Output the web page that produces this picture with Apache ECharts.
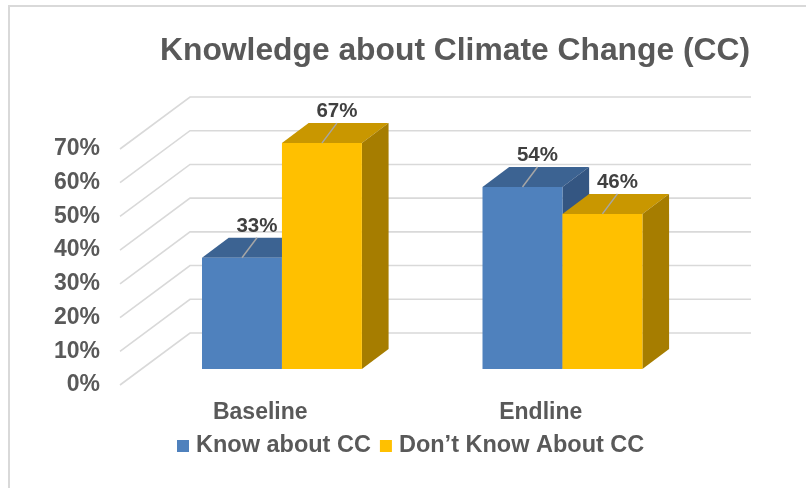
<!DOCTYPE html>
<html>
<head>
<meta charset="utf-8">
<script src="https://cdn.jsdelivr.net/npm/echarts@6/dist/echarts.min.js"></script>
<style>
  html, body { margin: 0; padding: 0; background: #ffffff; }
  #chart { width: 806px; height: 488px; }
</style>
</head>
<body>
<div id="chart"></div>
<script>
// Survey results: share of respondents who know about climate change
const categories = ['Baseline', 'Endline'];
const seriesNames = ['Know about CC', 'Don\u2019t Know About CC'];
const knowAbout = [33, 54];
const dontKnow = [67, 46];
const yTicks = [0, 10, 20, 30, 40, 50, 60, 70];

const FONT = '"Liberation Sans", Arial, sans-serif';

// Pseudo-3D geometry (pixel offsets of the receding depth axis)
const FLOOR = { dx: 70, dy: -52 };      // full floor depth (front edge -> back wall)
const BAR_FRONT = { dx: 21.7, dy: -16 }; // bar front faces sit part-way into the floor
const BAR_DEPTH = { dx: 26.7, dy: -20 }; // depth of each bar
const BAR_FRACTION = 0.285;             // bar width as share of the category band

const palettes = [
  { front: '#4f81bd', top: '#3c6392', side: '#345682' },
  { front: '#ffc000', top: '#c99700', side: '#a67d00' }
];

function wallRender(params, api) {
  const v = api.value(1);
  const p = api.coord([0, v]);
  const cs = params.coordSys;
  const left = cs.x;
  const right = cs.x + cs.width;
  const y = p[1];
  return {
    type: 'polyline',
    shape: {
      points: [
        [left, y],
        [left + FLOOR.dx, y + FLOOR.dy],
        [right + FLOOR.dx, y + FLOOR.dy]
      ]
    },
    style: { stroke: '#d9d9d9', lineWidth: 1.6, fill: null },
    silent: true
  };
}

function makeBarRender(seriesIndex) {
  const pal = palettes[seriesIndex];
  return function (params, api) {
    const cat = api.value(0);
    const v = api.value(1);
    const base = api.coord([cat, 0]);
    const top = api.coord([cat, v]);
    const band = api.size([1, 0])[0];
    const w = band * BAR_FRACTION;
    const x0 = base[0] + BAR_FRONT.dx + (seriesIndex === 0 ? -w : 0);
    const x1 = x0 + w;
    const yb = base[1] + BAR_FRONT.dy;
    const yt = top[1] + BAR_FRONT.dy;
    const dx = BAR_DEPTH.dx, dy = BAR_DEPTH.dy;
    const cx = (x0 + x1) / 2;
    return {
      type: 'group',
      children: [
        {
          type: 'polygon',
          shape: { points: [[x0, yt], [x1, yt], [x1 + dx, yt + dy], [x0 + dx, yt + dy]] },
          style: { fill: pal.top }
        },
        {
          type: 'polygon',
          shape: { points: [[x1, yt], [x1 + dx, yt + dy], [x1 + dx, yb + dy], [x1, yb]] },
          style: { fill: pal.side }
        },
        {
          type: 'rect',
          shape: { x: x0, y: yt, width: w, height: yb - yt },
          style: { fill: pal.front }
        },
        {
          type: 'line',
          shape: { x1: cx, y1: yt, x2: cx + 15, y2: yt - 20 },
          style: { stroke: '#a6a6a6', lineWidth: 1.5 }
        },
        {
          type: 'text',
          x: cx + 15,
          y: yt - 21,
          style: {
            text: v + '%',
            fill: '#404040',
            font: 'bold 20.5px ' + FONT,
            align: 'center',
            verticalAlign: 'bottom'
          }
        }
      ]
    };
  };
}

const chart = echarts.init(document.getElementById('chart'), null, { renderer: 'canvas' });

chart.setOption({
  backgroundColor: '#ffffff',
  animation: false,
  graphic: [
    {
      type: 'rect',
      shape: { x: 9, y: 6, width: 900, height: 600 },
      style: { fill: null, stroke: '#d9d9d9', lineWidth: 2 },
      silent: true,
      z: -10
    }
  ],
  title: {
    text: 'Knowledge about Climate Change (CC)',
    left: 160,
    top: 35,
    padding: 0,
    textStyle: { fontFamily: FONT, fontWeight: 'bold', fontSize: 31.8, color: '#595959' }
  },
  legend: {
    data: seriesNames,
    left: 177,
    top: 434,
    padding: 0,
    icon: 'rect',
    itemWidth: 12,
    itemHeight: 12,
    itemGap: 9,
    textStyle: { fontFamily: FONT, fontWeight: 'bold', fontSize: 23.5, color: '#595959', padding: [0, 0, 0, 2] }
  },
  grid: { left: 120, right: 125, top: 149, bottom: 103 },
  xAxis: {
    type: 'category',
    data: categories,
    axisLine: { show: false },
    axisTick: { show: false },
    splitLine: { show: false },
    axisLabel: { fontFamily: FONT, fontWeight: 'bold', fontSize: 23, color: '#595959', margin: 16 }
  },
  yAxis: {
    type: 'value',
    min: 0,
    max: 70,
    interval: 10,
    axisLine: { show: false },
    axisTick: { show: false },
    splitLine: { show: false },
    axisLabel: { formatter: '{value}%', fontFamily: FONT, fontWeight: 'bold', fontSize: 23, color: '#595959', margin: 20 }
  },
  series: [
    {
      type: 'custom',
      name: 'wall',
      silent: true,
      z: 1,
      renderItem: wallRender,
      encode: { x: 0, y: 1 },
      data: yTicks.map(function (t) { return [0, t]; })
    },
    {
      type: 'custom',
      name: seriesNames[0],
      z: 2,
      itemStyle: { color: palettes[0].front },
      renderItem: makeBarRender(0),
      encode: { x: 0, y: 1 },
      data: knowAbout.map(function (v, i) { return [i, v]; })
    },
    {
      type: 'custom',
      name: seriesNames[1],
      z: 3,
      itemStyle: { color: palettes[1].front },
      renderItem: makeBarRender(1),
      encode: { x: 0, y: 1 },
      data: dontKnow.map(function (v, i) { return [i, v]; })
    }
  ]
});
</script>
</body>
</html>
